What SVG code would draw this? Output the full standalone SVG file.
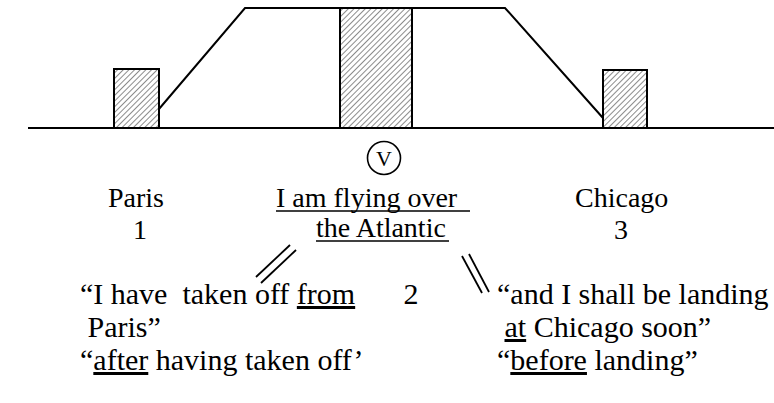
<svg xmlns="http://www.w3.org/2000/svg" width="774" height="403" viewBox="0 0 774 403">
<style>
.ln{stroke:#000;stroke-width:2;fill:none;stroke-linecap:square}
.thin{stroke:#000;stroke-width:1.8;fill:none}
.box{fill:url(#hatch);stroke:#000;stroke-width:2}
text{font-family:"Liberation Serif","Times New Roman",serif;font-size:28px;fill:#000;white-space:pre}
.big{font-size:30px}
.u{text-decoration:underline}
</style>
<defs>
<pattern id="hatch" patternUnits="userSpaceOnUse" width="4" height="4" patternTransform="rotate(45)">
<rect width="4" height="4" fill="#fff"/>
<line x1="0" y1="0" x2="0" y2="4" stroke="#000" stroke-width="0.9"/>
</pattern>
</defs>
<g id="ground"><line class="ln" x1="29" y1="128" x2="774" y2="128"/></g>
<g id="connectors">
<polyline class="ln" points="159,109 245,8 505,8 603,118"/>
<line class="thin" x1="256" y1="277" x2="290" y2="245"/>
<line class="thin" x1="261" y1="283" x2="296" y2="250"/>
<line class="thin" x1="462" y1="256" x2="482" y2="293"/>
<line class="thin" x1="469" y1="254" x2="489" y2="292"/>
</g>
<g id="paris-box"><rect class="box" x="114" y="69" width="45" height="59"/></g>
<g id="atlantic-box"><rect class="box" x="340" y="8" width="72" height="120"/></g>
<g id="chicago-box"><rect class="box" x="603" y="70" width="44" height="58"/></g>
<g id="v-node"><circle cx="384" cy="158" r="16.5" fill="none" stroke="#000" stroke-width="1.6"/><text x="384" y="166" text-anchor="middle" style="font-size:22px">V</text></g>
<g id="paris"><text x="108" y="207">Paris</text><text x="140" y="239" text-anchor="middle">1</text></g>
<g id="now"><text x="276" y="207">I am flying over </text><line x1="276" y1="211" x2="470" y2="211" stroke="#000" stroke-width="1.5"/><text x="316" y="237">the Atlantic</text><line x1="316" y1="241" x2="449" y2="241" stroke="#000" stroke-width="1.5"/></g>
<g id="chicago"><text x="575" y="207">Chicago</text><text x="621" y="239" text-anchor="middle">3</text></g>
<g id="two"><text class="big" x="411" y="304" text-anchor="middle">2</text></g>
<g id="before-text"><text class="big" x="80" y="304">“I have  taken off <tspan class="u">from</tspan></text><text class="big" x="80" y="337"> Paris”</text><text class="big" x="80" y="370">“<tspan class="u">after</tspan> having taken off’</text></g>
<g id="after-text"><text class="big" x="497" y="304">“and I shall be landing</text><text class="big" x="497" y="337"> <tspan class="u">at</tspan> Chicago soon”</text><text class="big" x="497" y="370">“<tspan class="u">before</tspan> landing”</text></g>
</svg>
